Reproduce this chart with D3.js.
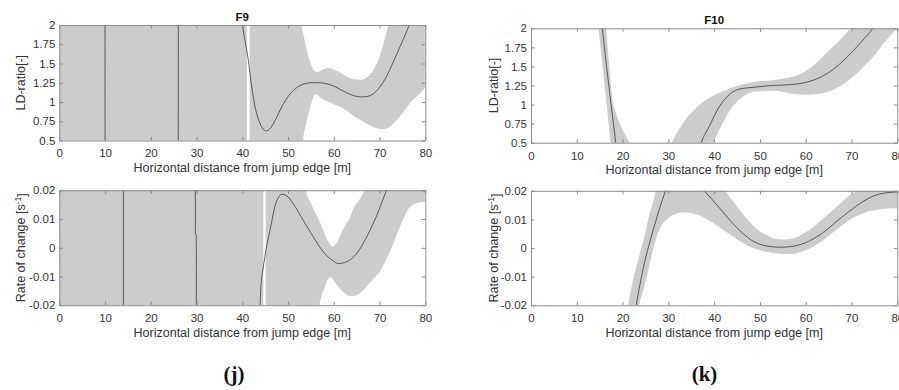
<!DOCTYPE html>
<html><head><meta charset="utf-8">
<script src="https://cdn.jsdelivr.net/npm/d3@7"></script>
<style>body{margin:0;background:#fff}svg{display:block}</style>
</head><body><svg id="c" width="899" height="390"></svg>
<script>
// ---------- ticks ----------
const xTicks = [0,10,20,30,40,50,60,70,80];
const ldTicks = [0.5,0.75,1,1.25,1.5,1.75,2];
const ldTickLabels = ["0.5","0.75","1","1.25","1.5","1.75","2"];
const rateTicks = [-0.02,-0.01,0,0.01,0.02];
const rateTickLabels = ["-0.02","-0.01","0","0.01","0.02"];
const titles = ["F9","F10"];
const captions = ["(j)","(k)"];
const xLabel = "Horizontal distance from jump edge [m]";
const ldLabel = "LD-ratio[-]";

// ---------- F9 LD-ratio ----------
const f9LdBandX  = [0, 41.0, 41.3, 41.6, 52.5, 53.0, 53.3, 53.8, 54.6, 55.3, 55.9, 56.5, 57.5, 58.8, 60, 62, 63, 64, 66, 67.5, 69, 70.5, 71.9, 73, 75, 76.6, 78.8, 80];
const f9LdBandLo = [-1, -1, null, -1, -1, 0.0, 0.5, 0.68, 0.88, 1.02, 1.10, 1.08, 1.04, 1.005, 0.97, 0.92, 0.88, 0.83, 0.76, 0.71, 0.665, 0.647, 0.665, 0.72, 0.85, 0.98, 1.11, 1.19];
const f9LdBandHi = [3, 3, null, 3, 3, 2.0, 1.9, 1.75, 1.56, 1.45, 1.395, 1.39, 1.42, 1.44, 1.42, 1.36, 1.32, 1.30, 1.29, 1.33, 1.45, 1.68, 2.0, 2.3, 2.8, 3.2, 3.8, 4.0];
const f9LdLineX = [0, 9.97, 10.03, 25.97, 26.03, 39.9, 40.1, 40.6, 41.3, 42.0, 42.5, 43.0, 43.5, 44.3, 45.1, 46, 47, 48, 49, 50, 51, 52, 53, 54, 55, 56, 57, 58, 59.9, 61.5, 62.8, 64.5, 66.1, 67.5, 68.6, 70, 71.5, 73, 74.5, 75.5, 76.5, 77.5];
const f9LdLineY = [3, 3, -1, -1, 3, 3, 2.0, 1.8, 1.55, 1.22, 1.03, 0.88, 0.78, 0.67, 0.625, 0.65, 0.74, 0.86, 0.98, 1.07, 1.14, 1.19, 1.225, 1.243, 1.25, 1.252, 1.25, 1.243, 1.21, 1.16, 1.12, 1.08, 1.066, 1.075, 1.105, 1.19, 1.33, 1.52, 1.72, 1.86, 2.0, 2.15];

// ---------- F9 rate of change ----------
const f9RateBandX  = [0, 44.6, 44.85, 45.1, 53.0, 53.9, 55, 56.0, 56.5, 56.9, 58, 58.8, 59.2, 59.5, 59.8, 60.2, 60.5, 61, 62, 62.5, 63.9, 64, 65.5, 66.8, 67, 68, 69, 70, 70.8, 72.5, 74.5, 76.3, 78.8, 80];
const f9RateBandLo = [-1, -1, null, -0.06, -0.045, -0.04, -0.035, -0.03, -0.025, -0.02, -0.0138, -0.0108, -0.0102, -0.0104, -0.011, -0.012, -0.0125, -0.0135, -0.0153, -0.016, -0.0169, -0.0169, -0.016, -0.0142, -0.0138, -0.012, -0.0103, -0.0085, -0.0062, -0.0005, 0.0075, 0.0135, 0.0158, 0.016];
const f9RateBandHi = [1, 1, null, 0.06, 0.03, 0.02, 0.0155, 0.012, 0.0105, 0.0092, 0.0048, 0.0022, 0.0012, 0.0005, 0.0004, 0.0008, 0.0014, 0.003, 0.0062, 0.0078, 0.012, 0.0125, 0.0165, 0.02, 0.0206, 0.024, 0.027, 0.03, 0.033, 0.038, 0.044, 0.05, 0.056, 0.06];
const f9RateLineX = [0, 13.97, 14.03, 29.72, 29.74, 29.94, 29.96, 43.8, 43.9, 44.2, 44.6, 45.3, 46.2, 47.1, 47.8, 48.6, 49.7, 51.1, 53.3, 55.5, 57.7, 59.9, 61, 62.8, 65, 67.2, 69.4, 71.5, 72.5];
const f9RateLineY = [-1, -1, 1, 1, 0.005, 0.0045, -1, -1, -0.02, -0.0113, -0.0067, 0.0003, 0.0072, 0.0142, 0.0172, 0.0186, 0.0181, 0.0154, 0.0096, 0.0038, -0.0014, -0.0046, -0.0055, -0.0049, -0.002, 0.0038, 0.0113, 0.02, 0.024];

// ---------- F10 LD-ratio ----------
const f10LdBandX  = [14.5, 14.75, 15.4, 16.0, 16.4, 16.8, 17.4, 17.8, 18.4, 19.5, 20.5, 21.6, 22, 26, 30, 30.7, 32, 34.5, 35, 36.5, 38.2, 39.8, 41.8, 44, 45.4, 46.2, 49.1, 52.7, 55, 56.3, 57.5, 60, 62, 63.6, 64, 66, 67.2, 68, 69.8, 70.9, 72, 74.5, 77.4, 80];
const f10LdBandLo = [2.14, 2.0, 1.63, 1.29, 1.07, 0.84, 0.5, 0.3, 0.0, -1, -1, -1, -1, null, -0.7, -0.62, -0.48, -0.18, -0.1, 0.08, 0.3, 0.5, 0.75, 0.97, 1.06, 1.10, 1.17, 1.18, 1.165, 1.15, 1.14, 1.13, 1.138, 1.15, 1.155, 1.19, 1.23, 1.26, 1.34, 1.39, 1.46, 1.61, 1.83, 2.0];
const f10LdBandHi = [3, 2.8, 2.45, 2.2, 2.0, 1.72, 1.3, 1.06, 0.92, 0.74, 0.61, 0.5, 0.46, null, 0.42, 0.5, 0.64, 0.86, 0.89, 0.98, 1.06, 1.115, 1.17, 1.225, 1.25, 1.265, 1.30, 1.32, 1.34, 1.355, 1.37, 1.44, 1.53, 1.62, 1.645, 1.76, 1.83, 1.88, 2.0, 2.07, 2.15, 2.3, 2.5, 2.7];
const f10LdLineX = [15.0, 15.6, 16.5, 17.5, 18.5, 19.0, 30, 36.5, 37.2, 38.9, 41.1, 43.3, 45.4, 48.3, 50, 52.7, 56.3, 60, 63.6, 67.2, 70.9, 74.7, 76];
const f10LdLineY = [2.35, 2.0, 1.5, 1.0, 0.5, 0.25, null, 0.35, 0.5, 0.71, 0.97, 1.13, 1.20, 1.225, 1.235, 1.25, 1.26, 1.29, 1.37, 1.52, 1.74, 2.0, 2.1];

// ---------- F10 rate of change ----------
const f10RateBandX  = [20.5, 21.3, 23.6, 25, 25.4, 26, 27, 27.3, 28, 30, 32, 33.5, 36, 38, 40, 42, 42.5, 44, 45, 46, 47.5, 48, 50, 52, 52.5, 54, 55, 56, 57.5, 59, 60, 62, 62.5, 64, 65, 66, 67.5, 68, 70, 71.5, 72, 74, 76, 78, 80];
const f10RateBandLo = [-0.05, -0.04, -0.02, -0.012, -0.0095, -0.005, 0.0015, 0.003, 0.0062, 0.0105, 0.0122, 0.0125, 0.0118, 0.0105, 0.0085, 0.0063, 0.0058, 0.0042, 0.0031, 0.002, 0.0007, 0.0003, -0.0008, -0.0015, -0.0016, -0.0019, -0.002, -0.0021, -0.002, -0.0013, -0.0008, 0.0008, 0.0013, 0.003, 0.0042, 0.0055, 0.0074, 0.008, 0.0103, 0.0115, 0.0118, 0.0129, 0.0135, 0.0138, 0.0139];
const f10RateBandHi = [-0.03, -0.02, -0.003, 0.0055, 0.0087, 0.0125, 0.018, 0.02, 0.024, 0.031, 0.035, 0.036, 0.035, 0.031, 0.026, 0.0212, 0.02, 0.0165, 0.0145, 0.0125, 0.0095, 0.0087, 0.0058, 0.0041, 0.0037, 0.0031, 0.003, 0.0031, 0.0035, 0.0046, 0.0055, 0.0078, 0.0085, 0.0106, 0.012, 0.0134, 0.0155, 0.0162, 0.019, 0.02, 0.0205, 0.0222, 0.0235, 0.0245, 0.025];
const f10RateLineX = [22.5, 23.0, 24, 25.1, 26.5, 28, 29.4, 30.5, 33.5, 37.8, 39.6, 41.8, 44, 46.2, 48.3, 51.2, 54.2, 56.7, 60, 63.6, 67.2, 70.9, 74.5, 78.1, 80];
const f10RateLineY = [-0.026, -0.02, -0.0111, -0.003, 0.0052, 0.0134, 0.02, 0.024, 0.028, 0.02, 0.0169, 0.0128, 0.0087, 0.0052, 0.0026, 0.0008, 0.0003, 0.0005, 0.0019, 0.0052, 0.0099, 0.0145, 0.018, 0.0194, 0.0196];

// ---------- layout ----------
const svg = d3.select("#c");
const FONT = "'Liberation Sans', Arial, Helvetica, sans-serif";
const AX = "#8a8a8a", TXT = "#333";

const panels = [
  {id:"tl", L:59.3, R:425.3, T:25,   B:140.5, yDom:[0.5,2], yt:ldTicks, ytl:ldTickLabels, ylab:"ld", title:titles[0],
   bx:f9LdBandX, blo:f9LdBandLo, bhi:f9LdBandHi, lx:f9LdLineX, ly:f9LdLineY, ylx:24.5},
  {id:"tr", L:531,  R:897.3, T:28.3, B:142.7, yDom:[0.5,2], yt:ldTicks, ytl:ldTickLabels, ylab:"ld", title:titles[1],
   bx:f10LdBandX, blo:f10LdBandLo, bhi:f10LdBandHi, lx:f10LdLineX, ly:f10LdLineY, ylx:498},
  {id:"bl", L:59.3, R:425.3, T:190.3, B:305.2, yDom:[-0.02,0.02], yt:rateTicks, ytl:rateTickLabels, ylab:"rate", title:null,
   bx:f9RateBandX, blo:f9RateBandLo, bhi:f9RateBandHi, lx:f9RateLineX, ly:f9RateLineY, ylx:24.5},
  {id:"br", L:531,  R:897.3, T:190.8, B:305.3, yDom:[-0.02,0.02], yt:rateTicks, ytl:rateTickLabels, ylab:"rate", title:null,
   bx:f10RateBandX, blo:f10RateBandLo, bhi:f10RateBandHi, lx:f10RateLineX, ly:f10RateLineY, ylx:498}
];

const defs = svg.append("defs");

panels.forEach(p => {
  const x = d3.scaleLinear().domain([0,80]).range([p.L, p.R]);
  const y = d3.scaleLinear().domain(p.yDom).range([p.B, p.T]);
  defs.append("clipPath").attr("id","clip-"+p.id).append("rect")
    .attr("x",p.L).attr("y",p.T).attr("width",p.R-p.L).attr("height",p.B-p.T);

  const g = svg.append("g");
  const plot = g.append("g").attr("clip-path","url(#clip-"+p.id+")");

  const band = p.bx.map((v,i)=>({x:v, lo:p.blo[i], hi:p.bhi[i]}));
  const area = d3.area().defined(d=>d.lo!==null && d.hi!==null)
    .x(d=>x(d.x)).y0(d=>y(d.lo)).y1(d=>y(d.hi)).curve(d3.curveMonotoneX);
  plot.append("path").datum(band).attr("d",area).attr("fill","#cccccc").attr("stroke","none");

  const pts = p.lx.map((v,i)=>({x:v, y:p.ly[i]}));
  const line = d3.line().defined(d=>d.y!==null).x(d=>x(d.x)).y(d=>y(d.y)).curve(d3.curveMonotoneX);
  plot.append("path").datum(pts).attr("d",line).attr("fill","none").attr("stroke","#3a3a3a").attr("stroke-width",0.8);

  // axes (inward ticks, box)
  const styleAxis = sel => {
    sel.selectAll("path.domain").attr("stroke",AX);
    sel.selectAll(".tick line").attr("stroke",AX);
    sel.selectAll("text").attr("fill",TXT).style("font-family",FONT).style("font-size","11.5px");
  };
  g.append("g").attr("transform",`translate(0,${p.B})`)
    .call(d3.axisBottom(x).tickValues(xTicks).tickFormat(d3.format("d")).tickSize(-3.5).tickSizeOuter(0).tickPadding(8.8))
    .call(styleAxis);
  g.append("g").attr("transform",`translate(0,${p.T})`)
    .call(d3.axisTop(x).tickValues(xTicks).tickFormat("").tickSize(-3.5).tickSizeOuter(0))
    .call(styleAxis);
  g.append("g").attr("transform",`translate(${p.L},0)`)
    .call(d3.axisLeft(y).tickValues(p.yt).tickFormat((d,i)=>p.ytl[i]).tickSize(-3.5).tickSizeOuter(0).tickPadding(4))
    .call(styleAxis);
  g.append("g").attr("transform",`translate(${p.R},0)`)
    .call(d3.axisRight(y).tickValues(p.yt).tickFormat("").tickSize(-3.5).tickSizeOuter(0))
    .call(styleAxis);

  // title
  if (p.title) {
    g.append("text").attr("x",(p.L+p.R)/2).attr("y",p.T-4.5).attr("text-anchor","middle")
      .style("font-family",FONT).style("font-size","11.5px").style("font-weight","bold").attr("fill","#111").text(p.title);
  }
  // x label
  g.append("text").attr("x",(p.L+p.R)/2).attr("y",p.B+31.5).attr("text-anchor","middle")
    .style("font-family",FONT).style("font-size","12.5px").attr("fill",TXT).text(xLabel);
  // y label
  const yl = g.append("text").attr("transform",`translate(${p.ylx},${(p.T+p.B)/2}) rotate(-90)`)
    .attr("text-anchor","middle").style("font-family",FONT).style("font-size","12.5px").attr("fill",TXT);
  if (p.ylab==="ld") yl.text(ldLabel);
  else {
    yl.append("tspan").text("Rate of change [s");
    yl.append("tspan").attr("dy","-0.45em").style("font-size","8.5px").text("-1");
    yl.append("tspan").attr("dy","0.45em").text("]");
  }
});

// captions
[[234, captions[0]], [704.5, captions[1]]].forEach(([cx,t]) => {
  svg.append("text").attr("x",cx).attr("y",381).attr("text-anchor","middle")
    .style("font-family","'Liberation Serif','Times New Roman',serif").style("font-size","21px").style("font-weight","bold")
    .attr("fill","#111").text(t);
});
</script></body></html>
